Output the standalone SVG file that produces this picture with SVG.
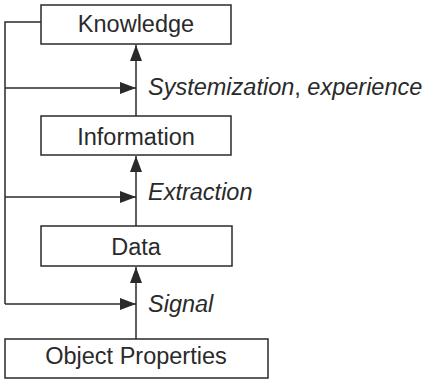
<svg xmlns="http://www.w3.org/2000/svg" width="431" height="380" viewBox="0 0 431 380">
<style>
.box{fill:#fff;stroke:#2a2a2a;stroke-width:1.5}
.t{font-family:"Liberation Sans",Arial,sans-serif;font-size:23.5px;fill:#2a2a2a;text-anchor:middle}
.l{font-family:"Liberation Sans",Arial,sans-serif;font-size:23.5px;fill:#2a2a2a;font-style:italic}
.c{fill:none;stroke:#2a2a2a;stroke-width:1.5}
</style>
<defs>
<marker id="ah" viewBox="0 0 16 12" refX="16" refY="6" markerWidth="16" markerHeight="12" markerUnits="userSpaceOnUse" orient="auto">
<path d="M0,0 L16,6 L0,12 Z" fill="#2a2a2a"/>
</marker>
</defs>
<g id="connectors">
<path class="c" d="M136,339 V267" marker-end="url(#ah)"/>
<path class="c" d="M136,226 V156" marker-end="url(#ah)"/>
<path class="c" d="M136,116 V45" marker-end="url(#ah)"/>
<path class="c" d="M41,22 H5 V304"/>
<path class="c" d="M5,88 H136" marker-end="url(#ah)"/>
<path class="c" d="M5,197 H136" marker-end="url(#ah)"/>
<path class="c" d="M5,304 H136" marker-end="url(#ah)"/>
<text class="l" x="148" y="95">Systemization<tspan font-style="normal">,</tspan> experience</text>
<text class="l" x="148" y="200">Extraction</text>
<text class="l" x="148" y="312">Signal</text>
</g>
<g id="knowledge"><rect class="box" x="41" y="5" width="190" height="39"/><text class="t" x="136" y="32">Knowledge</text></g>
<g id="information"><rect class="box" x="41" y="116" width="190" height="39"/><text class="t" x="136" y="145">Information</text></g>
<g id="data"><rect class="box" x="41" y="226" width="191" height="40"/><text class="t" x="136" y="255">Data</text></g>
<g id="object-properties"><rect class="box" x="5" y="339" width="263" height="39"/><text class="t" x="136" y="364">Object Properties</text></g>
</svg>
